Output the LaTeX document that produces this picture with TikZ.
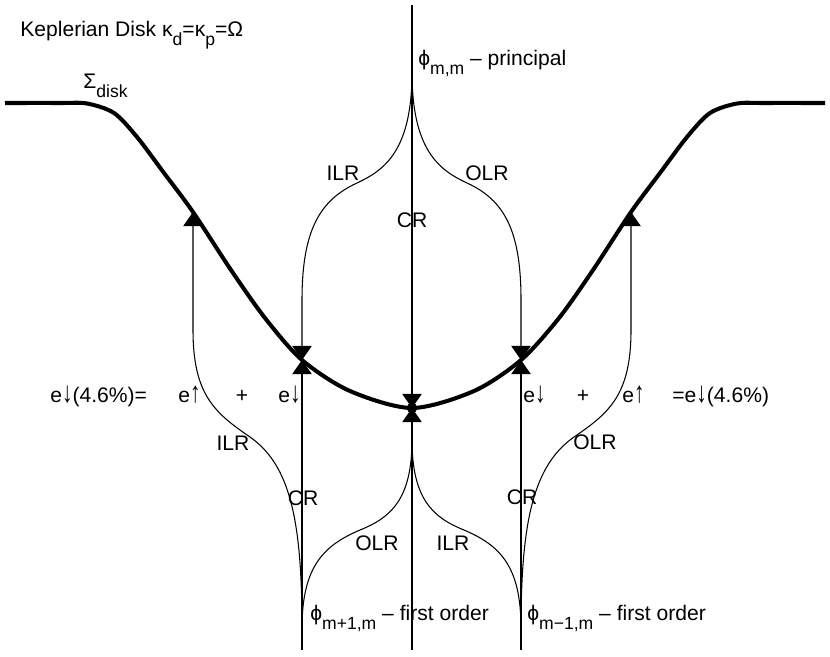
\documentclass[tikz,border=0pt]{standalone}
\usepackage{fontspec}
\setmainfont{Liberation Sans}
\usetikzlibrary{arrows.meta}
\newcommand{\subtxt}[1]{\raisebox{-5.5pt}{\fontsize{10}{12}\selectfont #1}}
\newcommand{\dnarr}{\raisebox{-0.5pt}{\scalebox{1}[1.4]{↓}}}
\newcommand{\uparr}{\raisebox{-0.5pt}{\scalebox{1}[1.4]{↑}}}

\begin{document}
\begin{tikzpicture}[x=0.02cm,y=-0.02cm,font=\fontsize{12}{14}\selectfont,
  wire/.style={line width=0.6pt},
  disk/.style={line width=2.3pt},
  tip/.style={-{Triangle[width=11pt,length=8pt]}},
  lbl/.style={inner sep=0pt}]
  \useasboundingbox (0,0) rectangle (830,656);
  \coordinate (top) at (412,5);
  \coordinate (cuspT) at (412,72);
  \coordinate (cuspC) at (412,440);
  \coordinate (cuspL) at (302,628);
  \coordinate (cuspR) at (521,628);
  \coordinate (dLL) at (193,212);
  \coordinate (dL) at (302,360);
  \coordinate (dC) at (412,408);
  \coordinate (dR) at (521,360);
  \coordinate (dRR) at (631,212);
  \coordinate (botL) at (302,650);
  \coordinate (botC) at (412,650);
  \coordinate (botR) at (521,650);
  \draw[disk] plot[smooth] coordinates {(5,103) (60,103) (87,103.5) (114,113) (137,137) (164,173)
    (193,212) (231,270) (265,318) (302,360) (350,391) (412,408) (474,391) (521,360) (559,318)
    (593,270) (631,212) (660,173) (687,137) (710,113) (737,103.5) (764,103) (825,103)};
  \draw[wire,tip] (top) -- (dC);
  \draw[wire,tip] (botC) -- (dC);
  \draw[wire,tip] (botL) -- (dL);
  \draw[wire,tip] (botR) -- (dR);
  \draw[wire,tip] (cuspT) .. controls (412,150) and (385,170) .. (357,183) .. controls (320,200) and (302,230) .. (302,300) -- (dL);
  \draw[wire,tip] (cuspT) .. controls (412,150) and (439,170) .. (467,183) .. controls (504,200) and (521,230) .. (521,300) -- (dR);
  \draw[wire] (cuspC) .. controls (412,500) and (390,518) .. (360,530) .. controls (325,545) and (302,565) .. (cuspL);
  \draw[wire] (cuspC) .. controls (412,500) and (434,518) .. (464,530) .. controls (499,545) and (521,565) .. (cuspR);
  \draw[wire,tip] (cuspL) .. controls (302,520) and (290,465) .. (250,437) .. controls (215,413) and (193,395) .. (193,330) -- (dLL);
  \draw[wire,tip] (cuspR) .. controls (521,520) and (534,465) .. (574,437) .. controls (609,413) and (631,395) .. (631,330) -- (dRR);
  \fill (dC) circle[radius=3pt];
  \node[lbl,anchor=base west] (title) at (20,36) {Keplerian Disk κ\subtxt{d}=κ\subtxt{p}=Ω};
  \node[lbl,anchor=base west] (sigma) at (83,88) {Σ\subtxt{disk}};
  \node[lbl,anchor=base west] (principal) at (418,65) {ϕ\subtxt{m,m} – principal};
  \node[lbl] (ilrT) at (343,173) {ILR};
  \node[lbl] (olrT) at (487,173) {OLR};
  \node[lbl] (crT) at (412,220) {CR};
  \node[lbl,anchor=base west] (sumL) at (50,402) {e\dnarr(4.6\%)=};
  \node[lbl,anchor=base west] (upL) at (178,402) {e\uparr};
  \node[lbl,anchor=base] (plusL) at (242,402) {+};
  \node[lbl,anchor=base west] (downL) at (278,402) {e\dnarr};
  \node[lbl,anchor=base west] (downR) at (523,402) {e\dnarr};
  \node[lbl,anchor=base] (plusR) at (583,402) {+};
  \node[lbl,anchor=base west] (upR) at (622,402) {e\uparr};
  \node[lbl,anchor=base west] (sumR) at (672,402) {=e\dnarr(4.6\%)};
  \node[lbl] (ilrL) at (233,443) {ILR};
  \node[lbl] (crL) at (303,498) {CR};
  \node[lbl] (olrC) at (377,543) {OLR};
  \node[lbl] (ilrC) at (453,543) {ILR};
  \node[lbl] (crR) at (522,497) {CR};
  \node[lbl] (olrR) at (595,442) {OLR};
  \node[lbl,anchor=base west] (firstL) at (310,620) {ϕ\subtxt{m+1,m} – first order};
  \node[lbl,anchor=base west] (firstR) at (527,620) {ϕ\subtxt{m−1,m} – first order};
\end{tikzpicture}
\end{document}
